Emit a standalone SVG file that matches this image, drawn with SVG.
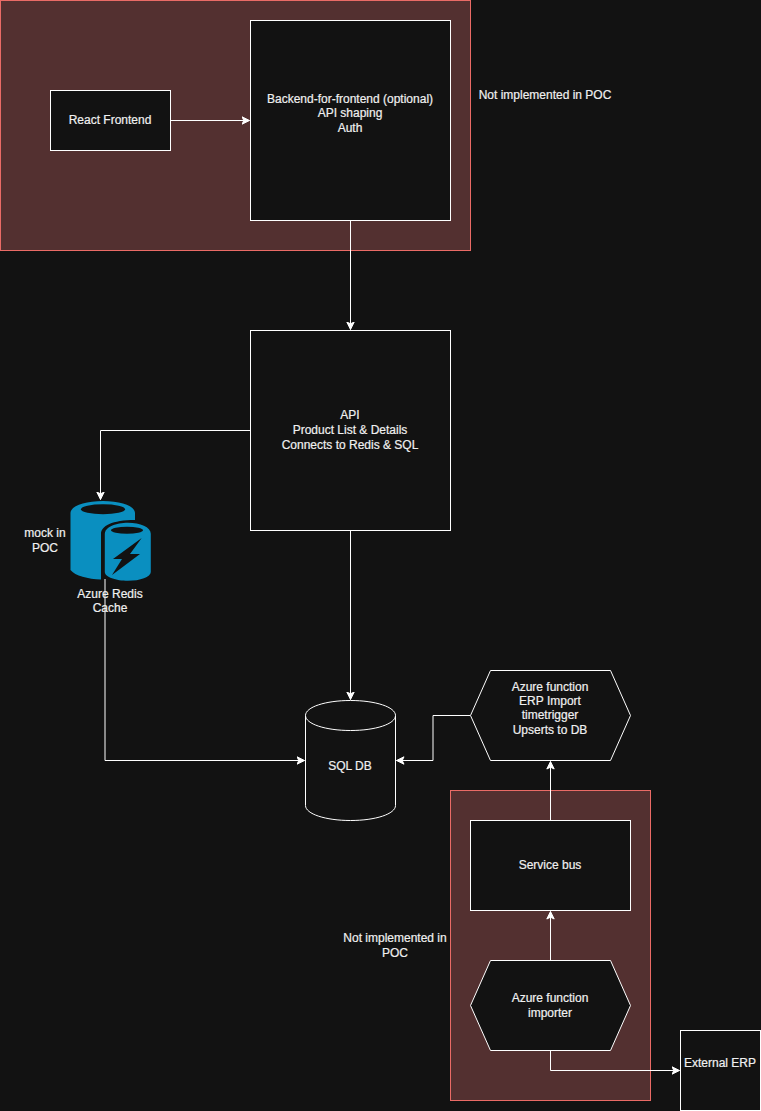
<svg xmlns="http://www.w3.org/2000/svg" width="761" height="1111" viewBox="0 0 761 1111">
<style>
text{font-family:"Liberation Sans",Arial,sans-serif;font-size:12px;fill:#f0f0f0;stroke:#f0f0f0;stroke-width:0.2;text-anchor:middle}
.n{fill:#121212;stroke:#fff;stroke-width:1}
.z{fill:#533030;stroke:#ea6b66;stroke-width:1}
.e{fill:none;stroke:#fff;stroke-width:1;marker-end:url(#a)}
.i{fill:#0a8fc0}
</style>
<defs>
<marker id="a" markerUnits="userSpaceOnUse" markerWidth="10" markerHeight="10" refX="8" refY="4.5" orient="auto"><path d="M0.5 0.8L8 4.5L0.5 8.2L2.3 4.5Z" fill="#fff" stroke="#fff" stroke-width="1"/></marker>
</defs>
<rect width="761" height="1111" fill="#121212"/>
<g id="zone-top"><rect class="z" x="0.5" y="0.5" width="470" height="250"/></g>
<g id="zone-bottom"><rect class="z" x="450.5" y="790.5" width="200" height="310"/></g>
<g id="connectors">
<path class="e" d="M170.5 120.5H249.5"/>
<path class="e" d="M350.5 220.5V329.5"/>
<path class="e" d="M250.5 430.5H100.5V499.5"/>
<path class="e" d="M350.5 530.5V699.5"/>
<path class="e" d="M105 579V760.5H304.5"/>
<path class="e" d="M470.5 715.5H433V760.5H396.5"/>
<path class="e" d="M550.5 820.5V761.5"/>
<path class="e" d="M550.5 960.5V911.5"/>
<path class="e" d="M550.5 1050.5V1070.5H679.5"/>
</g>
<g id="react-frontend"><rect class="n" x="50.5" y="90.5" width="120" height="60"/><text x="110" y="124">React Frontend</text></g>
<g id="bff"><rect class="n" x="250.5" y="20.5" width="200" height="200"/><text x="350" y="103">Backend-for-frontend (optional)</text><text x="350" y="117">API shaping</text><text x="350" y="132">Auth</text></g>
<g id="note-top"><text x="545" y="99">Not implemented in POC</text></g>
<g id="api"><rect class="n" x="250.5" y="330.5" width="200" height="200"/><text x="350" y="419">API</text><text x="350" y="434">Product List &amp; Details</text><text x="350" y="449">Connects to Redis &amp; SQL</text></g>
<g id="redis">
<path class="i" d="M70.500 570V513C70.500 506 85 501 103 501S135 506 135 513V520C112 520 101 526 101 534V579.500C88 579 75 576 70.500 570Z"/>
<ellipse cx="103" cy="509.300" rx="22" ry="5" fill="#121212"/>
<path class="i" d="M104.800 534C104.800 527 116 522.800 128 522.800S150.800 527 150.800 534V572C150.800 577 140 580.800 128 580.800S104.800 577 104.800 572Z"/>
<ellipse cx="127" cy="530.300" rx="16" ry="3.500" fill="#121212"/>
<path d="M141.700 538L130 554H140L112 575L122 559H113Z" fill="#121212"/>
<text x="110" y="598">Azure Redis</text><text x="110" y="612">Cache</text>
</g>
<g id="note-redis"><text x="45" y="537">mock in</text><text x="45" y="552">POC</text></g>
<g id="sql-db"><path class="n" d="M305.500 715.500C305.500 707 325.500 700.500 350.500 700.500S395.500 707 395.500 715.500V805.500C395.500 814 375.500 820.500 350.500 820.500S305.500 814 305.500 805.500Z"/><path d="M305.500 715.500C305.500 724 325.500 730.500 350.500 730.500S395.500 724 395.500 715.500" fill="none" stroke="#fff"/><text x="350" y="770">SQL DB</text></g>
<g id="erp-import"><path class="n" d="M470.500 715.500L490.500 670.500H610.500L630.500 715.500L610.500 760.500H490.500Z"/><text x="550" y="691">Azure function</text><text x="550" y="705">ERP Import</text><text x="550" y="719">timetrigger</text><text x="550" y="734">Upserts to DB</text></g>
<g id="service-bus"><rect class="n" x="470.500" y="820.500" width="160" height="90"/><text x="550" y="869">Service bus</text></g>
<g id="importer"><path class="n" d="M470.500 1005.500L490.500 960.500H610.500L630.500 1005.500L610.500 1050.500H490.500Z"/><text x="550" y="1002">Azure function</text><text x="550" y="1017">importer</text></g>
<g id="external-erp"><rect class="n" x="680.500" y="1030.500" width="80" height="80"/><text x="720" y="1067">External ERP</text></g>
<g id="note-bottom"><text x="395" y="942">Not implemented in</text><text x="395" y="957">POC</text></g>
</svg>
